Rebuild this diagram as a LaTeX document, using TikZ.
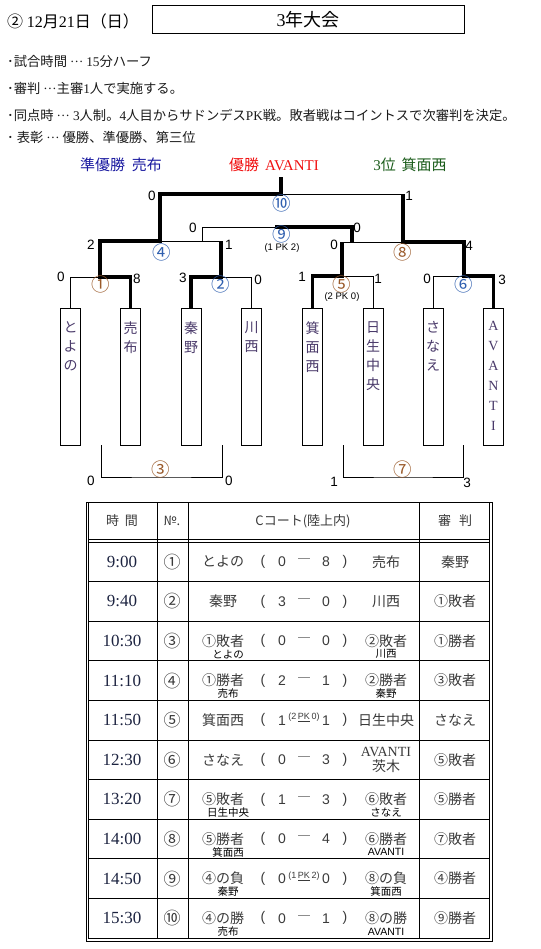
\documentclass[tikz,border=0pt]{standalone}
\usepackage{fontspec}
\setmainfont{Liberation Serif}
\setsansfont{Liberation Sans}
\newfontfamily\jp{Noto Sans CJK JP}
\usetikzlibrary{positioning,calc}
\definecolor{ink}{HTML}{1A1A1A}
\definecolor{tblgray}{HTML}{3A3A3A}
\definecolor{timeink}{HTML}{1C2340}
\definecolor{teamink}{HTML}{4A3A6A}
\definecolor{silverblue}{HTML}{1A1AA0}
\definecolor{goldred}{HTML}{F01010}
\definecolor{bronzegreen}{HTML}{1A5C1A}
\definecolor{numblue}{HTML}{2F5FAF}
\definecolor{numbrown}{HTML}{9A5A2A}
\newcommand\rn[1]{{\rmfamily #1}}
\newcommand\dashmark{{\jp ―}}
\newcommand\middots{{\rmfamily\raisebox{0.3em}{…}}}
\newcommand\pkmark[2]{\raisebox{7pt}{\fontsize{9}{9}\selectfont(#1\,\underline{PK}\,#2)}}
\tikzset{
  winline/.style={line width=3.6pt,draw=black},
  loseline/.style={line width=0.9pt,draw=black},
  teambox/.style={draw=black,line width=0.9pt,minimum width=20pt,
                  minimum height=137pt,inner sep=0pt},
  teamname/.style={anchor=north,align=center,inner sep=0pt,text=teamink,
                   font=\jp\fontsize{14}{19}\selectfont},
  scorelbl/.style={inner sep=0pt,font=\sffamily\fontsize{13.5}{14}\selectfont},
  matchlbl/.style={inner sep=0pt,font=\jp\fontsize{18.5}{18.5}\selectfont},
  pklbl/.style={inner sep=0pt,font=\sffamily\fontsize{9.5}{10}\selectfont},
  note/.style={anchor=west,inner sep=0pt,text=ink,
               font=\jp\fontsize{13.3}{14}\selectfont},
  headcell/.style={inner sep=0pt,text=tblgray,font=\jp\fontsize{13}{13}\selectfont},
  timecell/.style={inner sep=0pt,text=timeink,font=\rmfamily\fontsize{17}{17}\selectfont},
  teamcell/.style={inner sep=0pt,align=center,text=tblgray,
                   font=\jp\fontsize{14}{15}\selectfont},
  subcell/.style={inner sep=0pt,text=black,font=\jp\fontsize{10.5}{10.5}\selectfont},
  scorecell/.style={inner sep=0pt,text=tblgray,font=\sffamily\fontsize{14}{14}\selectfont},
  gridline/.style={line width=0.8pt,draw=black}
}
\begin{document}
\begin{tikzpicture}[x=1pt,y=-1pt]
  \path[use as bounding box] (0,0) rectangle (540,949);

  % heading
  \node[anchor=west,inner sep=0pt,font=\jp\fontsize{16}{16}\selectfont] (date) at (7,21)
    {② \rn{12}月\rn{21}日（日）};
  \node[draw=black,line width=1pt,minimum width=312pt,minimum height=28pt,
        font=\jp\fontsize{18}{18}\selectfont] (title) at (308,20) {\rn{3}年大会};
  \node[note] (rule1) at (7,61) {･試合時間 \middots{} \rn{15}分ハーフ};
  \node[note] (rule2) at (7,88) {･審判 \middots{}主審\rn{1}人で実施する。};
  \node[note] (rule3) at (7,115)
    {･同点時 \middots{} \rn{3}人制。\rn{4}人目からサドンデス\rn{PK}戦。敗者戦はコイントスで次審判を決定。};
  \node[note] (rule4) at (7,137) {･ 表彰 \middots{} 優勝、準優勝、第三位};

  % placings
  \node[text=silverblue,font=\jp\fontsize{15}{15}\selectfont] (second) at (121,165)
    {準優勝\hspace{7pt}売布};
  \node[text=goldred,font=\fontsize{15}{15}\selectfont] (first) at (274,165)
    {{\jp 優勝}\hspace{6pt}AVANTI};
  \node[text=bronzegreen,font=\jp\fontsize{15}{15}\selectfont] (third) at (410,165)
    {\rn{3}位\hspace{6pt}箕面西};

  % team boxes
  \node[teambox] (t1) at (70.5,376.5) {};
  \node[teambox] (t2) at (130.5,376.5) {};
  \node[teambox] (t3) at (191,376.5) {};
  \node[teambox] (t4) at (251.5,376.5) {};
  \node[teambox] (t5) at (312.5,376.5) {};
  \node[teambox] (t6) at (373,376.5) {};
  \node[teambox] (t7) at (433,376.5) {};
  \node[teambox] (t8) at (493.5,376.5) {};
  \node[teamname] (n1) at ([yshift=-14pt]t1.north) {と\\よ\\の};
  \node[teamname] (n2) at ([yshift=-14pt]t2.north) {売\\布};
  \node[teamname] (n3) at ([yshift=-14pt]t3.north) {秦\\野};
  \node[teamname] (n4) at ([yshift=-14pt]t4.north) {川\\西};
  \node[teamname] (n5) at ([yshift=-14pt]t5.north) {箕\\面\\西};
  \node[teamname] (n6) at ([yshift=-14pt]t6.north) {日\\生\\中\\央};
  \node[teamname] (n7) at ([yshift=-14pt]t7.north) {さ\\な\\え};
  \node[teamname,font=\rmfamily\fontsize{14}{20}\selectfont] (n8) at ([yshift=-14pt]t8.north)
    {A\\V\\A\\N\\T\\I};

  % match points
  \coordinate (m1) at (100,277);
  \coordinate (m2) at (221,277);
  \coordinate (m4) at (160,241);
  \coordinate (m5) at (342,276);
  \coordinate (m6) at (464,276);
  \coordinate (m8) at (403,242);
  \coordinate (m9) at (275,227);
  \coordinate (m10) at (281,194);
  \coordinate (champ) at (281,177);
  \coordinate (c9l) at (202,241);
  \coordinate (c9r) at (352,242);

  % winners' bracket
  \draw[loseline] (t1.north) |- (m1);
  \draw[loseline] (t4.north) |- (m2);
  \draw[loseline] (t6.north) |- (m5);
  \draw[loseline] (t7.north) |- (m6);
  \draw[loseline] (m4) -- (m2 |- m4);
  \draw[loseline] (m8) -- (m5 |- m8);
  \draw[loseline] (m10) -- (m8 |- m10);
  \draw[loseline] (c9l) |- (m9);
  \draw[winline] (t2.north) |- (m1) |- (m4) |- (m10) -- (champ);
  \draw[winline] (t3.north) |- (m2) -- (m2 |- m4);
  \draw[winline] (t5.north) |- (m5) -- (m5 |- m8);
  \draw[winline] (t8.north) |- (m6) |- (m8) -- (m8 |- m10);
  \draw[winline] (c9r) |- (m9);

  % losers' games
  \coordinate (l1) at (101,445);
  \coordinate (l2) at (222,445);
  \coordinate (m3) at (161,477);
  \coordinate (l5) at (343,445);
  \coordinate (l6) at (463,445);
  \coordinate (m7) at (403,477);
  \draw[loseline] (l1) |- (m3) -| (l2);
  \draw[loseline] (l5) |- (m7) -| (l6);

  % match numbers
  \node[matchlbl,text=numbrown] (g1) at (101,284) {①};
  \node[matchlbl,text=numblue] (g2) at (221,284) {②};
  \node[matchlbl,text=numbrown] (g3) at (161,469) {③};
  \node[matchlbl,text=numblue] (g4) at (162,252) {④};
  \node[matchlbl,text=numbrown] (g5) at (342,284) {⑤};
  \node[pklbl] (pk5) at (342,297) {(2 PK 0)};
  \node[matchlbl,text=numblue] (g6) at (464,284) {⑥};
  \node[matchlbl,text=numbrown] (g7) at (403,469) {⑦};
  \node[matchlbl,text=numbrown] (g8) at (403,252) {⑧};
  \node[matchlbl,text=numblue] (g9) at (282,234) {⑨};
  \node[pklbl] (pk9) at (282,248) {(1 PK 2)};
  \node[matchlbl,text=numblue] (g10) at (282,203) {⑩};

  % scores
  \node[scorelbl] (s1a) at (61,277) {0};
  \node[scorelbl] (s1b) at (137,279) {8};
  \node[scorelbl] (s2a) at (183,278) {3};
  \node[scorelbl] (s2b) at (258,280) {0};
  \node[scorelbl] (s4a) at (91,245) {2};
  \node[scorelbl] (s4b) at (229,245) {1};
  \node[scorelbl] (s10a) at (152,196) {0};
  \node[scorelbl] (s10b) at (409,196) {1};
  \node[scorelbl] (s9a) at (193,228) {0};
  \node[scorelbl] (s9b) at (357,228) {0};
  \node[scorelbl] (s8a) at (334,245) {0};
  \node[scorelbl] (s8b) at (469,246) {4};
  \node[scorelbl] (s5a) at (302,277) {1};
  \node[scorelbl] (s5b) at (378,279) {1};
  \node[scorelbl] (s6a) at (427,279) {0};
  \node[scorelbl] (s6b) at (502,280) {3};
  \node[scorelbl] (s3a) at (91,481) {0};
  \node[scorelbl] (s3b) at (229,481) {0};
  \node[scorelbl] (s7a) at (334,482) {1};
  \node[scorelbl] (s7b) at (467,483) {3};

  % schedule table
  \draw[gridline] (88.5,502) rectangle (489.5,938);
  \draw[gridline] (86,502) -- (86,941) -- (492,941) -- (492,502) -- cycle;
  \draw[gridline] (88.5,539) -- (489.5,539);
  \foreach \k in {0,...,9}
    \draw[gridline] (88.5,542+39.6*\k) -- (489.5,542+39.6*\k);
  \foreach \cx in {157,188,419}
    \draw[gridline] (\cx,502) -- (\cx,938);
  \node[headcell] (h1) at (122,521) {時\hspace{6pt}間};
  \node[headcell] (h2) at (172,521) {№.};
  \node[headcell] (h3) at (303,521) {Cコート(陸上内)};
  \node[headcell] (h4) at (455,521) {審\hspace{8pt}判};
  \foreach \i/\tm/\no/\lteam/\lsub/\lscore/\mk/\rscore/\rteam/\rsub/\refs in {
    1/9:00/①/とよの//0/\dashmark/8/売布//秦野,
    2/9:40/②/秦野//3/\dashmark/0/川西//①敗者,
    3/10:30/③/①敗者/とよの/0/\dashmark/0/②敗者/川西/①勝者,
    4/11:10/④/①勝者/売布/2/\dashmark/1/②勝者/秦野/③敗者,
    5/11:50/⑤/箕面西//1/{\pkmark{2}{0}}/1/日生中央//さなえ,
    6/12:30/⑥/さなえ//0/\dashmark/3/{{\rmfamily AVANTI}\\茨木}//⑤敗者,
    7/13:20/⑦/⑤敗者/日生中央/1/\dashmark/3/⑥敗者/さなえ/⑤勝者,
    8/14:00/⑧/⑤勝者/箕面西/0/\dashmark/4/⑥勝者/{\sffamily AVANTI}/⑦敗者,
    9/14:50/⑨/④の負/秦野/0/{\pkmark{1}{2}}/0/⑧の負/箕面西/④勝者,
    10/15:30/⑩/④の勝/売布/0/\dashmark/1/⑧の勝/{\sffamily AVANTI}/⑨勝者}{
    \pgfmathsetmacro\yc{522.2+39.6*\i}
    \pgfmathsetmacro\ys{\yc+13.3}
    \node[timecell] (time\i) at (122,\yc) {\tm};
    \node[headcell,font=\jp\fontsize{17}{17}\selectfont] (no\i) at (172,\yc) {\no};
    \node[teamcell] (home\i) at (223,\yc) {\lteam};
    \node[subcell] (homesub\i) at (228,\ys) {\lsub};
    \node[scorecell] (lp\i) at (263,\yc) {(};
    \node[scorecell] (hs\i) at (282,\yc) {\lscore};
    \node[scorecell] (mk\i) at (304,\yc) {\mk};
    \node[scorecell] (as\i) at (326,\yc) {\rscore};
    \node[scorecell] (rp\i) at (345,\yc) {)};
    \node[teamcell] (away\i) at (386,\yc) {\rteam};
    \node[subcell] (awaysub\i) at (386,\ys) {\rsub};
    \node[teamcell] (ref\i) at (455,\yc) {\refs};
  }
\end{tikzpicture}
\end{document}
